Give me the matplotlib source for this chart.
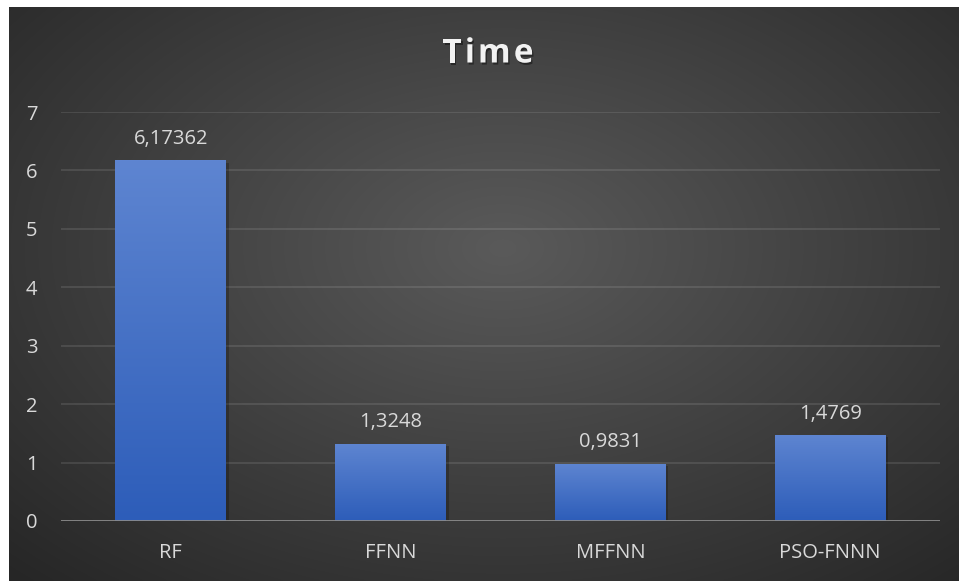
import numpy as np
import matplotlib
matplotlib.use("Agg")
import matplotlib.pyplot as plt
import matplotlib.patheffects as pe

categories = ["RF", "FFNN", "MFFNN", "PSO-FNNN"]
times = [6.17362, 1.3248, 0.9831, 1.4769]
yticks = [0, 1, 2, 3, 4, 5, 6, 7]
title = "Time"

W, H, DPI = 961, 581, 100
fig = plt.figure(figsize=(W / DPI, H / DPI), dpi=DPI, facecolor="white")

# dark radial backdrop of the chart area
bg = fig.add_axes([9 / W, 0, (959 - 9) / W, (H - 7) / H])
bg.set_axis_off()
nx, ny = 400, 250
xx, yy = np.meshgrid(np.linspace(0, 1, nx), np.linspace(0, 1, ny))
r = np.sqrt(((xx - 0.52) / 0.75) ** 2 + ((yy - 0.42) / 0.8) ** 2)
r = np.clip(r, 0, 1)
inner = np.array([0x5a, 0x5a, 0x5a]) / 255
outer = np.array([0x26, 0x26, 0x26]) / 255
img = inner[None, None, :] * (1 - r[..., None]) + outer[None, None, :] * r[..., None]
bg.imshow(img, extent=[0, 1, 0, 1], aspect="auto", origin="upper", interpolation="bilinear")
bg.set_xlim(0, 1)
bg.set_ylim(0, 1)

font = "Open Sans"
txt = "#d9d9d9"
fs = 14.5

ax = fig.add_axes([61 / W, (H - 521) / H, 879 / W, (521 - 112) / H])
ax.patch.set_alpha(0)
ax.set_ylim(0, 7)
ax.set_xlim(-0.5, len(categories) - 0.5)

x = np.arange(len(categories))
bars = ax.bar(x, times, width=0.505, color="#4470c4", zorder=3)

# vertical blue gradient inside each bar
grad = np.linspace(0, 1, 256)[:, None]
top = np.array([0x5e, 0x85, 0xd1]) / 255
bot = np.array([0x2d, 0x5d, 0xb9]) / 255
gimg = top[None, None, :] * (1 - grad[..., None]) + bot[None, None, :] * grad[..., None]
for b in bars:
    x0, w, h = b.get_x(), b.get_width(), b.get_height()
    shadow = plt.Rectangle((x0 + 0.012, -0.04), w, h, color="black", alpha=0.22,
                           zorder=2, lw=0)
    ax.add_patch(shadow)
    im = ax.imshow(gimg, extent=[x0, x0 + w, 0, h], aspect="auto", origin="upper",
                   zorder=4, interpolation="bilinear")
    im.set_clip_path(b)

for xi, v in zip(x, times):
    ax.annotate(str(v).replace(".", ","), (xi, v), xytext=(0, 8),
                textcoords="offset points", ha="center", va="bottom",
                color=txt, fontsize=fs, family=font, zorder=5)

ax.set_yticks(yticks)
ax.set_yticklabels([str(t) for t in yticks], color=txt, fontsize=fs, family=font)
ax.set_xticks(x)
ax.set_xticklabels(categories, color=txt, fontsize=fs, family=font)
ax.tick_params(axis="both", length=0)
ax.tick_params(axis="y", pad=17)
ax.tick_params(axis="x", pad=16)
for yv in yticks[1:]:
    ax.axhline(yv, color="white", alpha=0.12, lw=1.2, zorder=1)
ax.axhline(0, color="#8c8c8c", lw=2, zorder=6)
for s in ax.spines.values():
    s.set_visible(False)

# letter-spaced bold title
fig.canvas.draw()
renderer = fig.canvas.get_renderer()
shadow_fx = [pe.withSimplePatchShadow(offset=(1, -1.5), alpha=0.4, shadow_rgbFace="black")]
chars = []
for ch in title:
    t = fig.text(0, 1 - 54 / H, ch, ha="left", va="center", color="#f2f2f2",
                 fontsize=24, fontweight="bold", family=font, path_effects=shadow_fx)
    chars.append(t)
widths = [t.get_window_extent(renderer).width for t in chars]
spacing = 3.0
total = sum(widths) + spacing * (len(chars) - 1)
xpos = 488 - total / 2
for t, w in zip(chars, widths):
    t.set_x(xpos / W)
    xpos += w + spacing

fig.savefig("out.png", dpi=DPI, facecolor="white")
